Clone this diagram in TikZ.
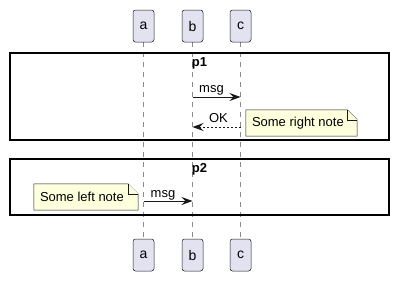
\documentclass[tikz,border=0pt]{standalone}
\usepackage{fontspec}
\setmainfont{Liberation Sans}
\usepackage{tikz}
\usetikzlibrary{arrows.meta}
\pgfdeclarelayer{edgelayer}
\pgfdeclarelayer{nodelayer}
\pgfsetlayers{edgelayer,main,nodelayer}
\definecolor{partfill}{HTML}{E2E2F0}
\definecolor{notefill}{HTML}{FEFFDD}
\definecolor{umlline}{HTML}{181818}
\definecolor{lifegray}{HTML}{8A8A8A}
\tikzstyle{participant}=[rectangle, rounded corners=2.5pt, fill=partfill, draw=umlline, line width=0.5pt, minimum width=21pt, minimum height=32pt, inner sep=0pt, font=\fontsize{14}{16}\selectfont]
\tikzstyle{lifeline}=[draw=lifegray, line width=0.7pt, dash pattern=on 5pt off 5pt]
\tikzstyle{group}=[draw=black, line width=1.5pt]
\tikzstyle{grouptitle}=[inner sep=0pt, font=\fontsize{13}{15}\selectfont\bfseries]
\tikzstyle{msglabel}=[inner sep=0pt, anchor=base, font=\fontsize{13}{15}\selectfont]
\tikzstyle{message}=[draw=umlline, line width=1pt, -{Stealth[length=11pt, width=8pt, inset=4pt]}]
\tikzstyle{reply}=[message, dash pattern=on 2pt off 2pt]
\tikzstyle{note}=[rectangle, inner sep=0pt, font=\fontsize{13}{15}\selectfont]
\tikzstyle{notebody}=[fill=notefill, draw=umlline, line width=0.5pt]

\begin{document}
\begin{tikzpicture}[x=1pt, y=-1pt]
				\useasboundingbox (0, 0) rectangle (398, 282);
				\begin{pgfonlayer}{nodelayer}
					\node [style=participant] (a) at (143.5, 26) {a};
					\node [style=participant] (b) at (192.5, 26) {b};
					\node [style=participant] (c) at (240.5, 26) {c};
					\node [style=participant] (a2) at (143.5, 255) {a};
					\node [style=participant] (b2) at (192.5, 255) {b};
					\node [style=participant] (c2) at (240.5, 255) {c};
					\node [style=note, minimum width=111pt, minimum height=26pt] (rightnote) at (301.5, 123) {};
					\node [style=note, minimum width=104pt, minimum height=26pt] (leftnote) at (86, 197) {};
				\end{pgfonlayer}
				\begin{pgfonlayer}{edgelayer}
					\draw [style=lifeline] (a) to (a2);
					\draw [style=lifeline] (b) to (b2);
					\draw [style=lifeline] (c) to (c2);
				\end{pgfonlayer}
				% group p1
				\draw [style=group] (10, 53) rectangle (389, 140);
				\node [style=grouptitle] (p1) at (199.5, 63.5) {p1};
				\coordinate (b1) at (192.5, 97);
				\coordinate (c1) at (240.5, 97);
				\draw [style=message] (b1) to (c1);
				\node [style=msglabel] (msg1) at (211.5, 92.5) {msg};
				\coordinate (c3) at (240.5, 127);
				\coordinate (b3) at (192.5, 127);
				\draw [style=reply] (c3) to (b3);
				\node [style=msglabel] (ok) at (218.5, 122) {OK};
				\draw [style=notebody] (rightnote.north west) -- ([xshift=-10pt]rightnote.north east) -- ([yshift=-10pt]rightnote.north east) -- (rightnote.south east) -- (rightnote.south west) -- cycle;
				\draw [style=notebody] ([xshift=-10pt]rightnote.north east) -- ([xshift=-10pt, yshift=-10pt]rightnote.north east) -- ([yshift=-10pt]rightnote.north east);
				\node [style=note, anchor=west] at ([xshift=6pt]rightnote.west) {Some right note};
				% group p2
				\draw [style=group] (10, 159) rectangle (389, 215);
				\node [style=grouptitle] (p2) at (199.5, 169.5) {p2};
				\coordinate (a4) at (143.5, 201);
				\coordinate (b4) at (192.5, 201);
				\draw [style=message] (a4) to (b4);
				\node [style=msglabel] (msg2) at (163, 197.5) {msg};
				\draw [style=notebody] (leftnote.north west) -- ([xshift=-10pt]leftnote.north east) -- ([yshift=-10pt]leftnote.north east) -- (leftnote.south east) -- (leftnote.south west) -- cycle;
				\draw [style=notebody] ([xshift=-10pt]leftnote.north east) -- ([xshift=-10pt, yshift=-10pt]leftnote.north east) -- ([yshift=-10pt]leftnote.north east);
				\node [style=note, anchor=west] at ([xshift=6pt]leftnote.west) {Some left note};
			\end{tikzpicture}
\end{document}
